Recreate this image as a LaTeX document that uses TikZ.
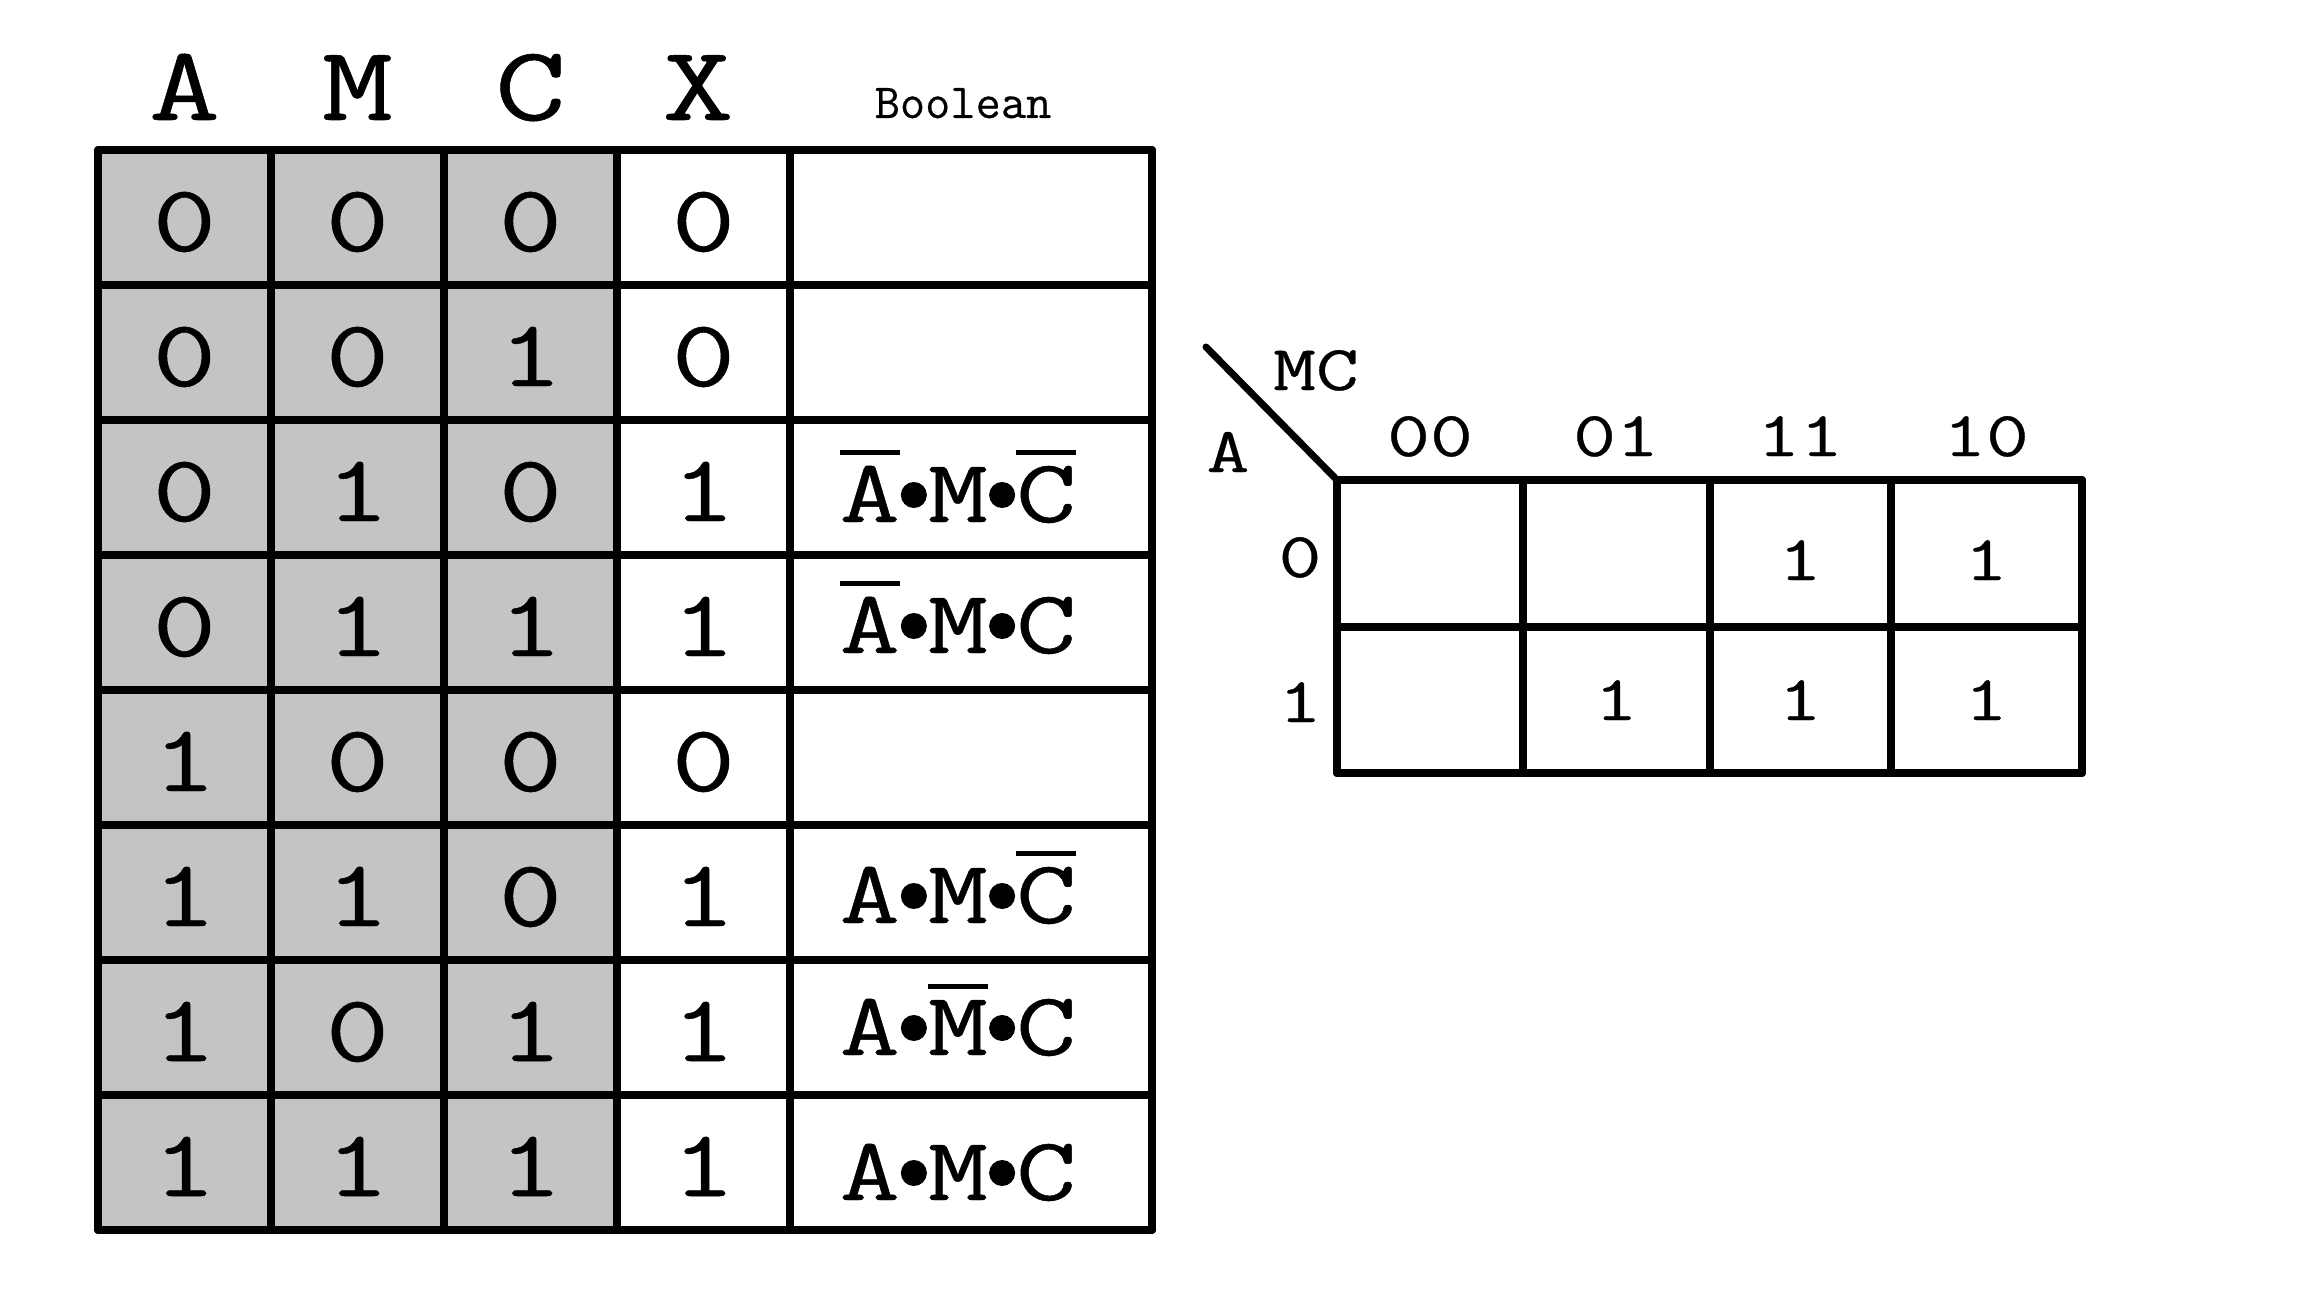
\documentclass[tikz,border=0pt]{standalone}
\usepackage{fontspec}
\setmonofont{Latin Modern Mono}
\newfontfamily\twfont[FakeStretch=1.3,FakeBold=0.5]{Latin Modern Mono}
\newfontfamily\twnarrow[FakeBold=0.4]{Latin Modern Mono}
\definecolor{cellgray}{RGB}{196,196,196}
\newcommand\olbar[1]{\leavevmode\hbox{\vbox{\hrule height 5pt\kern 11pt\hbox{#1}}}}
\newcommand\dotop{\kern1pt\raisebox{14pt}{\tikz\fill (0pt,0pt) circle[radius=13pt];}\kern1pt}
\tikzset{
  gridline/.style={line width=8pt, line cap=round, line join=round},
  hdr/.style={font=\fontsize{106}{110}\selectfont\twfont, anchor=base, inner sep=0pt},
  boolhdr/.style={font=\fontsize{49}{55}\selectfont\twnarrow, anchor=base, inner sep=0pt},
  celltxt/.style={font=\fontsize{95}{100}\selectfont\twfont, anchor=base, inner sep=0pt},
  booltxt/.style={font=\fontsize{90}{95}\selectfont\twfont, anchor=base, inner sep=0pt},
  kmtxt/.style={font=\fontsize{64}{70}\selectfont\twfont, anchor=base, inner sep=0pt},
}
\begin{document}
\begin{tikzpicture}[x=1pt,y=-1pt]
\useasboundingbox[fill=white] (0,0) rectangle (2307,1311);
% ---------- truth table ----------
\fill[cellgray] (98,150) rectangle (617,1230);
\foreach \yy in {150,285,...,1230} \draw[gridline] (98,\yy) -- (1152,\yy);
\foreach \xx in {98,271,444,617,790,1152} \draw[gridline] (\xx,150) -- (\xx,1230);
% headers
\node[hdr] (hA) at (184.5,120) {A};
\node[hdr] (hM) at (357.5,120) {M};
\node[hdr] (hC) at (530.5,120) {C};
\node[hdr] (hX) at (698,120) {X};
\node[boolhdr] (hB) at (963,118) {Boolean};
% cells
\foreach \a/\m/\c/\x [count=\i from 0] in {0/0/0/0,0/0/1/0,0/1/0/1,0/1/1/1,1/0/0/0,1/1/0/1,1/0/1/1,1/1/1/1}{
  \pgfmathsetmacro\by{150+135*\i+101}
  \node[celltxt] (a\i) at (184.5,\by) {\a};
  \node[celltxt] (m\i) at (357.5,\by) {\m};
  \node[celltxt] (c\i) at (530.5,\by) {\c};
  \node[celltxt] (x\i) at (703.5,\by) {\x};
}
% boolean expressions
\node[booltxt] (b2) at (958,522) {\olbar{A}\dotop M\dotop\olbar{C}};
\node[booltxt] (b3) at (958,653) {\olbar{A}\dotop M\dotop C};
\node[booltxt] (b5) at (958,923) {A\dotop M\dotop\olbar{C}};
\node[booltxt] (b6) at (958,1055) {A\dotop\olbar{M}\dotop C};
\node[booltxt] (b7) at (958,1200) {A\dotop M\dotop C};
% ---------- K-map ----------
\foreach \yy in {480,627,773} \draw[gridline] (1337,\yy) -- (2082,\yy);
\foreach \xx in {1337,1523,1710,1891,2082} \draw[gridline] (\xx,480) -- (\xx,773);
\coordinate (corner) at (1337,480);
\coordinate (diagend) at (1206,347);
\draw[line width=7pt, line cap=round] (diagend) -- (corner);
\node[kmtxt] (kMC) at (1316,390) {MC};
\node[kmtxt] (kA) at (1228,472) {A};
\node[kmtxt] (k00) at (1430,456) {00};
\node[kmtxt] (k01) at (1616,456) {01};
\node[kmtxt] (k11) at (1800,456) {11};
\node[kmtxt] (k10) at (1986,456) {10};
\node[kmtxt] (kr0) at (1300,577) {0};
\node[kmtxt] (kr1) at (1300,722) {1};
\node[kmtxt] (q011) at (1800,580) {1};
\node[kmtxt] (q010) at (1986,580) {1};
\node[kmtxt] (q101) at (1616,720) {1};
\node[kmtxt] (q111) at (1800,720) {1};
\node[kmtxt] (q110) at (1986,720) {1};
\end{tikzpicture}
\end{document}
